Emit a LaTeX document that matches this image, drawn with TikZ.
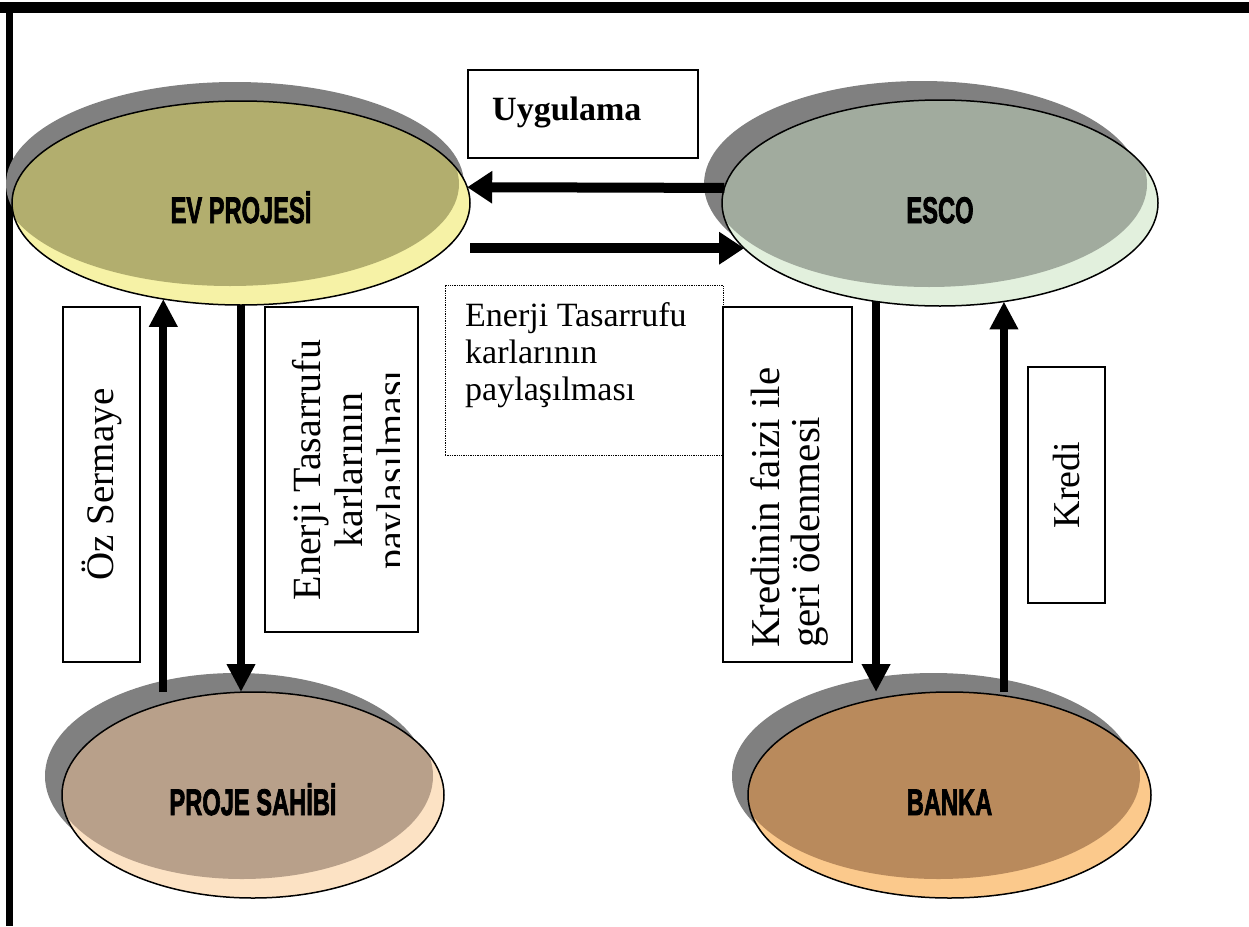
\documentclass[tikz,border=0pt]{standalone}
\usepackage{fontspec}
\setmainfont{Liberation Serif}
\newfontfamily\lblfont{Liberation Sans}[BoldFeatures={FakeBold=2.5}]
\usetikzlibrary{arrows.meta,shapes.geometric,shadows,calc}
\definecolor{shade}{HTML}{808080}
\definecolor{evdark}{HTML}{B2AE6E}
\definecolor{evlight}{HTML}{F6F2A6}
\definecolor{escodark}{HTML}{A1AB9E}
\definecolor{escolight}{HTML}{E2F0DD}
\definecolor{sahibidark}{HTML}{B8A08A}
\definecolor{sahibilight}{HTML}{FCE2C4}
\definecolor{bankadark}{HTML}{B98A5C}
\definecolor{bankalight}{HTML}{FBC98C}
\newcommand{\partyname}[1]{\scalebox{0.64}[1]{#1}}
\tikzset{
  party/.style n args={3}{ellipse, draw=black, line width=1.5pt, inner sep=0pt, outer sep=0pt,
    fill=#2, text height=40pt, text depth=0pt,
    font=\lblfont\bfseries\fontsize{37}{40}\selectfont,
    drop shadow={shadow xshift=#3, shadow yshift=19pt, fill=shade, opacity=1},
    path picture={\fill[#1] let \p1=(path picture bounding box.south west),
      \p2=(path picture bounding box.north east) in
      ([xshift=-11pt,yshift=19pt]path picture bounding box.center)
      ellipse [x radius={(\x2-\x1)/2}, y radius={(\y2-\y1)/2}];}},
  tag/.style={draw=black, line width=1.3pt, inner sep=0pt, outer sep=0pt},
  flow/.style={line width=8pt, -{Triangle[length=28pt,width=27pt]}},
  wideflow/.style={line width=10pt, -{Triangle[length=25pt,width=31pt]}}
}

\begin{document}
\begin{tikzpicture}[x=1pt,y=-1pt]
  \useasboundingbox (0,0) rectangle (1249,926);
  \fill (0,2) rectangle (1249,13);
  \fill (6,2) rectangle (13,926);

  \node[party={evdark}{evlight}{-6pt}, minimum width=458pt, minimum height=204pt] (ev) at (241,203) {\partyname{EV PROJESİ}};
  \node[party={escodark}{escolight}{-18pt}, minimum width=436pt, minimum height=206pt] (esco) at (940,203) {\partyname{ESCO}};
  \node[party={sahibidark}{sahibilight}{-17pt}, minimum width=382pt, minimum height=206pt] (sahibi) at (253,795) {\partyname{PROJE SAHİBİ}};
  \node[party={bankadark}{bankalight}{-16pt}, minimum width=403pt, minimum height=206pt] (banka) at (949.5,795) {\partyname{BANKA}};

  \node[tag, minimum width=230pt, minimum height=88pt] (uygbox) at (583,114) {};
  \node[anchor=base west, inner sep=0pt, font=\bfseries\fontsize{34}{38}\selectfont] (uyg) at (492,120) {Uygulama};

  \node[tag, densely dotted, line width=1pt, minimum width=278pt, minimum height=170pt] (sharebox) at (584,370) {};
  \node[anchor=north west, align=left, inner sep=0pt, font=\fontsize{34}{37}\selectfont] (share) at (465,302) {Enerji Tasarrufu\\karlarının\\paylaşılması};

  \node[tag, rotate=90, minimum width=355pt, minimum height=77pt, font=\fontsize{39}{42}\selectfont] (oz) at (101.5,484.5) {Öz Sermaye};

  \node[tag, minimum width=153pt, minimum height=325pt] (savebox) at (341.5,469.5) {};
  \begin{scope}
    \clip (savebox.north west) rectangle ([xshift=-19pt]savebox.south east);
    \node[rotate=90, align=center, font=\fontsize{40}{42}\selectfont] (save) at (353,470) {Enerji Tasarrufu\\karlarının\\paylaşılması};
  \end{scope}

  \node[tag, minimum width=129pt, minimum height=355pt] (paybox) at (787.5,484.5) {};
  \node[rotate=90, anchor=north west, align=left, inner sep=0pt, font=\fontsize{41}{40}\selectfont] (pay) at (750,648) {Kredinin faizi ile\\geri ödenmesi};

  \node[tag, rotate=90, minimum width=236pt, minimum height=77pt, font=\fontsize{38}{40}\selectfont] (kredi) at (1066.5,485) {Kredi};

  \draw[wideflow] (esco.176) -- (ev.4);
  \draw[wideflow] (ev.east |- esco.193) -- (esco.193);
  \draw[flow] (ev.231 |- sahibi.north) -- (ev.231);
  \draw[flow] (ev.south) -- (ev.south |- sahibi.north);
  \draw[flow] (esco.237) -- (esco.237 |- banka.north);
  \draw[flow] (esco.303 |- banka.north) -- (esco.303);
\end{tikzpicture}
\end{document}
